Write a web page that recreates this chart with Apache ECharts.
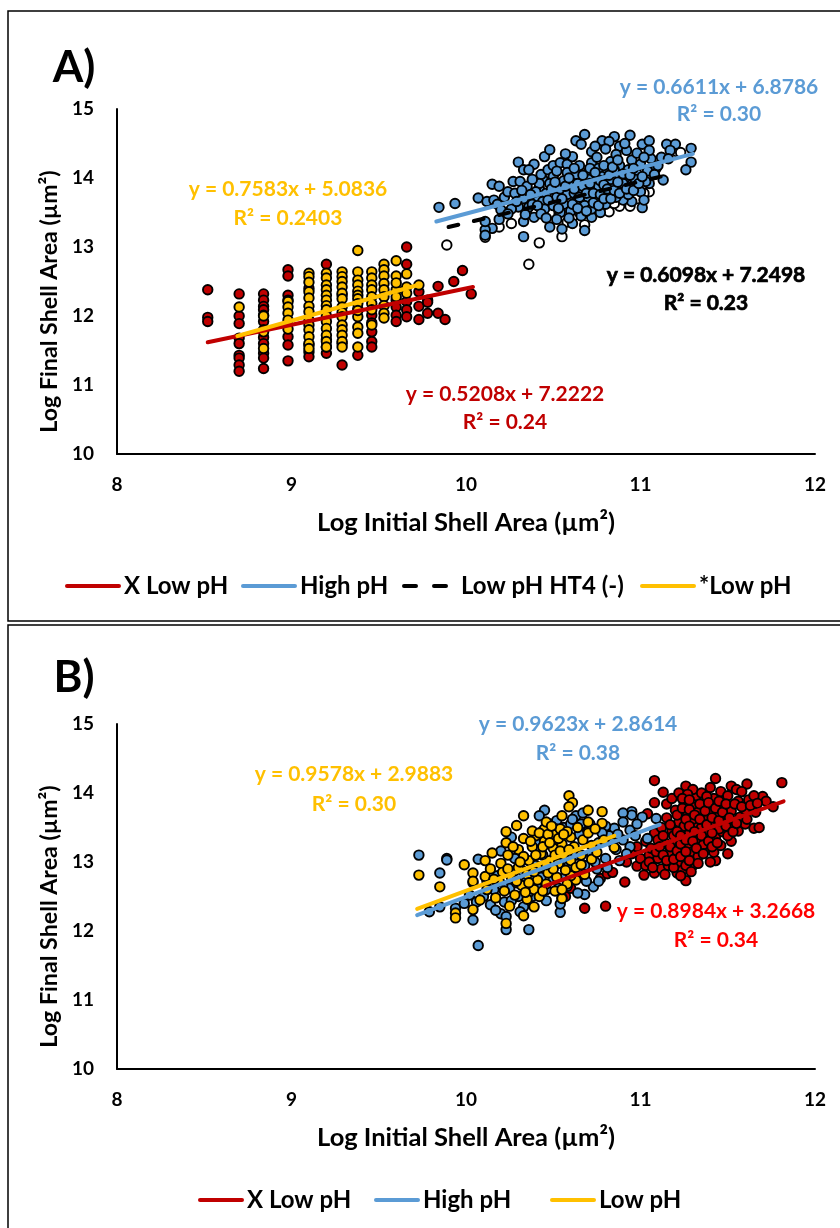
<!DOCTYPE html>
<html>
<head>
<meta charset="utf-8">
<title>Log shell area</title>
<script src="https://cdn.jsdelivr.net/npm/echarts@6/dist/echarts.min.js"></script>
<style>
html, body { margin: 0; padding: 0; background: #fff; }
#chart { width: 840px; height: 1228px; }
</style>
</head>
<body>
<div id="chart"></div>
<script>
// panel A: the low pH groups sit in columns, so [x, [y, y, ...]]
const redColumnsA = [
    [8.52, [12.38, 11.98, 11.92]],
    [8.70, [12.32, 12.00, 11.89, 11.68, 11.60, 11.43, 11.39, 11.29, 11.20]],
    [8.84, [12.32, 12.23, 12.14, 12.09, 12.01, 11.92, 11.80, 11.69, 11.60, 11.46, 11.39, 11.24]],
    [8.98, [12.67, 12.58, 12.30, 12.23, 11.70, 11.58, 11.35]],
    [9.10, [12.40, 11.58, 11.48, 11.41]],
    [9.20, [12.75, 11.46, 11.55, 11.66]],
    [9.29, [11.29, 11.60, 12.30]],
    [9.38, [11.43, 12.10]],
    [9.46, [11.77, 11.63, 11.55, 12.01, 11.90]],
    [9.60, [12.23, 12.13, 12.01, 11.92]],
    [9.66, [13.00, 12.75, 12.21, 12.09, 11.99]],
    [9.73, [12.35, 12.14, 11.95]],
    [9.78, [12.23, 12.20, 12.04]],
    [9.84, [12.43, 12.04]],
    [9.88, [11.95]],
    [9.93, [12.50]],
    [9.98, [12.66]],
    [10.03, [12.32]]
];
const yellowColumnsA = [
    [8.70, [12.13]],
    [8.84, [12.00, 11.77, 11.53]],
    [8.98, [12.21, 12.13, 12.04, 11.94, 11.81]],
    [9.10, [12.62, 12.57, 12.49, 12.35, 12.26, 12.14, 12.06, 11.94, 11.87, 11.80, 11.70, 11.60, 11.53]],
    [9.20, [12.62, 12.55, 12.45, 12.38, 12.30, 12.23, 12.15, 12.09, 12.00, 11.92, 11.82, 11.72, 11.63, 11.55]],
    [9.29, [12.64, 12.57, 12.50, 12.42, 12.33, 12.25, 12.13, 12.05, 11.99, 11.87, 11.80, 11.72, 11.63, 11.55]],
    [9.38, [12.95, 12.64, 12.52, 12.45, 12.36, 12.30, 12.25, 12.18, 11.99, 11.84, 11.75, 11.55, 12.08]],
    [9.46, [12.64, 12.55, 12.45, 12.38, 12.28, 12.18, 12.09, 11.87]],
    [9.53, [12.75, 12.67, 12.58, 12.47, 12.38, 12.28, 12.15, 12.04, 11.97]],
    [9.60, [12.80, 12.58, 12.38, 12.28, 12.48]],
    [9.66, [12.61, 12.42, 12.33]],
    [9.73, [12.45]]
];
const whitePointsA = [
    [9.89, 13.03], [10.36, 12.75], [10.42, 13.06], [10.55, 13.15], [10.19, 13.29], [10.26, 13.34],
    [10.11, 13.14], [10.48, 13.49], [10.61, 13.44], [10.68, 13.32], [10.82, 13.51], [10.88, 13.59],
    [10.94, 13.59], [10.85, 13.63], [11.05, 13.80], [11.02, 13.78], [11.21, 14.38], [11.23, 14.37],
    [10.58, 13.36], [10.40, 13.50], [10.65, 13.50], [10.72, 13.48], [10.76, 13.56], [10.98, 13.70]
];
const bluePointsA = [
    [9.845, 13.575], [9.937, 13.63], [10.07, 13.71], [10.12, 13.66], [10.15, 13.91], [10.19, 13.88],
    [10.30, 14.23], [10.39, 14.20], [10.33, 14.12], [10.36, 14.12], [10.45, 14.31], [10.48, 14.41],
    [10.68, 14.63], [10.63, 14.54], [10.66, 14.49], [10.78, 14.54], [10.85, 14.60], [10.94, 14.62],
    [10.82, 14.53], [10.88, 14.46], [11.01, 14.49], [11.05, 14.54], [11.15, 14.49], [11.20, 14.49],
    [11.29, 14.43], [11.29, 14.23], [11.26, 14.12], [11.13, 13.97], [11.09, 14.14], [11.05, 13.92],
    [11.01, 13.57], [10.95, 13.66], [10.90, 13.68], [10.72, 13.43], [10.61, 13.34], [10.55, 13.26],
    [10.48, 13.29], [10.68, 13.24], [10.33, 13.15], [10.33, 13.37], [10.39, 13.43], [10.19, 13.40],
    [10.15, 13.27], [10.11, 13.25], [10.11, 13.17], [10.11, 13.37], [10.16, 13.68], [10.22, 13.72],
    [10.24, 13.80], [10.28, 13.78], [10.27, 13.95], [10.31, 13.95], [10.35, 13.88], [10.33, 13.70],
    [10.30, 13.58], [10.26, 13.55], [10.36, 13.58], [10.40, 13.72], [10.42, 13.85], [10.44, 13.98],
    [10.43, 14.05], [10.47, 14.12], [10.50, 14.18], [10.54, 14.22], [10.58, 14.20], [10.50, 14.02],
    [10.48, 13.92], [10.46, 13.78], [10.44, 13.66], [10.45, 13.55], [10.50, 13.60], [10.52, 13.72],
    [10.54, 13.84], [10.56, 13.96], [10.58, 14.08], [10.61, 14.31], [10.65, 14.18], [10.63, 14.05],
    [10.60, 13.90], [10.58, 13.76], [10.56, 13.62], [10.54, 13.50], [10.60, 13.52], [10.63, 13.66],
    [10.66, 13.80], [10.68, 13.94], [10.70, 14.08], [10.72, 14.22], [10.72, 14.38], [10.75, 14.30],
    [10.76, 14.14], [10.74, 14.00], [10.72, 13.86], [10.70, 13.72], [10.68, 13.60], [10.66, 13.45],
    [10.72, 13.55], [10.75, 13.68], [10.78, 13.82], [10.80, 13.96], [10.81, 14.10], [10.83, 14.24],
    [10.80, 14.42], [10.86, 14.34], [10.88, 14.18], [10.86, 14.04], [10.84, 13.90], [10.82, 13.76],
    [10.80, 13.62], [10.86, 13.72], [10.89, 13.84], [10.91, 13.98], [10.93, 14.12], [10.95, 14.26],
    [10.92, 14.40], [10.98, 14.36], [11.00, 14.20], [10.98, 14.06], [10.95, 13.90], [10.93, 13.76],
    [11.00, 13.80], [11.03, 13.95], [11.04, 14.10], [11.06, 14.28], [11.05, 14.40], [11.08, 14.05],
    [11.10, 14.18], [11.12, 14.30], [11.17, 14.40], [11.16, 14.28], [11.02, 13.68], [10.38, 13.62],
    [10.34, 13.47], [10.42, 13.92], [10.52, 13.40], [10.77, 13.50], [10.91, 14.50], [10.74, 14.46],
    [10.57, 14.35], [10.52, 14.10], [10.62, 13.78], [10.70, 13.98], [10.76, 13.88], [10.83, 13.98],
    [10.90, 13.92], [10.97, 13.98], [10.64, 13.92], [10.78, 14.02], [10.85, 14.12], [10.40, 13.80],
    [10.18, 13.62], [10.20, 13.54], [10.24, 13.48], [10.29, 13.66], [10.32, 13.82], [10.37, 13.76],
    [10.38, 13.98], [10.41, 13.60], [10.43, 13.48], [10.46, 13.42], [10.47, 13.68], [10.49, 13.84],
    [10.51, 13.94], [10.53, 13.56], [10.55, 13.70], [10.57, 13.88], [10.59, 14.00], [10.59, 13.42],
    [10.61, 13.62], [10.62, 13.84], [10.62, 14.14], [10.64, 13.56], [10.65, 13.72], [10.67, 13.88],
    [10.67, 14.04], [10.69, 13.52], [10.69, 13.78], [10.71, 13.92], [10.71, 14.14], [10.73, 13.64],
    [10.73, 13.78], [10.74, 14.08], [10.76, 13.60], [10.77, 13.76], [10.77, 13.96], [10.79, 13.70],
    [10.79, 13.90], [10.79, 14.18], [10.81, 13.84], [10.82, 14.04], [10.83, 13.70], [10.84, 14.16],
    [10.85, 13.82], [10.87, 13.94], [10.87, 14.26], [10.88, 13.78], [10.90, 14.06], [10.92, 13.84],
    [10.94, 14.04], [10.96, 14.14], [10.96, 13.82], [10.99, 13.92], [11.01, 14.02], [11.02, 14.30]
];

// panel B
const redPointsB = [
    [10.68, 12.33], [10.80, 12.36], [10.91, 12.71], [10.77, 12.76], [10.81, 12.83], [10.84, 12.85],
    [11.08, 14.18], [11.13, 14.01], [11.08, 13.86], [11.43, 14.21], [11.61, 14.13], [11.81, 14.15],
    [11.26, 14.10], [11.70, 13.95], [11.76, 13.80], [11.65, 13.49], [11.52, 13.30], [11.43, 13.02],
    [11.26, 12.73], [11.21, 12.84], [11.08, 12.84], [11.02, 12.81], [10.98, 12.94], [10.92, 13.00],
    [11.04, 13.70], [11.15, 13.84], [10.57, 12.50], [10.60, 12.62], [10.95, 13.12], [10.98, 13.22],
    [11.00, 13.05], [11.03, 12.95], [11.05, 13.10], [11.03, 13.30], [11.08, 13.42], [11.06, 13.20],
    [11.10, 13.05], [11.12, 12.90], [11.14, 12.82], [11.16, 12.95], [11.18, 13.12], [11.14, 13.28],
    [11.12, 13.50], [11.15, 13.64], [11.18, 13.46], [11.20, 13.30], [11.22, 13.00], [11.24, 12.88],
    [11.26, 13.05], [11.28, 13.22], [11.22, 13.58], [11.20, 13.75], [11.18, 13.92], [11.22, 14.00],
    [11.25, 13.86], [11.27, 13.70], [11.28, 13.42], [11.30, 13.15], [11.30, 12.95], [11.33, 13.08],
    [11.34, 13.32], [11.32, 13.55], [11.30, 13.80], [11.32, 13.96], [11.30, 14.05], [11.35, 14.00],
    [11.36, 13.84], [11.37, 13.62], [11.38, 13.42], [11.38, 13.18], [11.40, 13.00], [11.42, 13.14],
    [11.43, 13.36], [11.42, 13.55], [11.40, 13.75], [11.42, 13.92], [11.40, 14.08], [11.46, 14.02],
    [11.47, 13.82], [11.48, 13.62], [11.47, 13.44], [11.46, 13.24], [11.50, 13.38], [11.52, 13.55],
    [11.52, 13.74], [11.50, 13.96], [11.52, 14.10], [11.55, 14.05], [11.56, 13.88], [11.57, 13.65],
    [11.56, 13.45], [11.60, 13.55], [11.60, 13.76], [11.62, 13.90], [11.65, 13.96], [11.66, 13.72],
    [11.68, 13.50], [11.72, 13.88], [11.58, 14.02], [11.35, 13.50], [11.33, 13.72], [11.25, 13.52],
    [11.19, 13.38], [11.10, 13.32], [11.24, 13.15], [11.36, 13.25], [11.44, 13.70], [11.27, 13.98],
    [11.38, 13.95], [11.50, 13.12], [11.40, 13.52], [11.16, 13.12], [11.30, 13.62], [11.45, 13.48],
    [11.05, 13.00], [11.07, 12.92], [11.09, 13.15], [11.11, 13.22], [11.13, 13.10], [11.13, 13.38],
    [11.15, 13.02], [11.17, 13.22], [11.17, 13.54], [11.19, 12.92], [11.19, 13.04], [11.21, 13.16],
    [11.21, 13.44], [11.21, 13.68], [11.23, 12.80], [11.23, 13.08], [11.23, 13.26], [11.23, 13.38],
    [11.24, 13.78], [11.24, 13.92], [11.26, 12.95], [11.26, 13.15], [11.26, 13.32], [11.26, 13.62],
    [11.28, 13.02], [11.28, 13.52], [11.28, 13.76], [11.28, 13.90], [11.29, 12.86], [11.30, 13.30],
    [11.31, 13.44], [11.31, 13.68], [11.32, 13.20], [11.33, 12.98], [11.34, 13.62], [11.34, 13.84],
    [11.35, 13.38], [11.36, 13.12], [11.37, 13.74], [11.38, 13.54], [11.39, 13.30], [11.39, 13.86],
    [11.41, 13.64], [11.41, 13.42], [11.41, 13.22], [11.43, 13.78], [11.44, 13.28], [11.45, 13.60],
    [11.45, 13.88], [11.47, 13.72], [11.49, 13.52], [11.49, 13.84], [11.51, 13.64], [11.53, 13.44],
    [11.54, 13.84], [11.55, 13.56], [11.58, 13.80], [11.61, 13.62], [11.63, 13.82], [11.67, 13.85]
];
const bluePointsB = [
    [9.73, 13.10], [9.89, 13.05], [9.89, 13.03], [9.85, 12.84], [9.79, 12.28], [9.85, 12.35],
    [9.94, 12.33], [10.07, 11.79], [10.23, 12.02], [10.36, 12.02], [10.04, 12.16], [10.20, 12.25],
    [10.23, 12.21], [10.33, 12.35], [10.54, 12.27], [10.54, 12.39], [10.68, 12.53], [10.73, 12.64],
    [10.45, 13.75], [10.42, 13.67], [10.63, 13.67], [10.67, 13.71], [10.95, 13.73], [10.95, 13.68],
    [10.90, 13.71], [10.90, 13.58], [11.01, 13.65], [11.09, 13.63], [10.94, 13.46], [10.85, 13.49],
    [10.07, 13.04], [10.20, 13.16], [10.26, 13.36], [11.04, 13.34], [9.99, 12.40], [10.02, 12.52],
    [10.04, 12.70], [10.10, 12.50], [10.14, 12.38], [10.16, 12.60], [10.18, 12.80], [10.22, 12.42],
    [10.25, 12.62], [10.27, 12.85], [10.30, 12.50], [10.31, 12.28], [10.28, 13.05], [10.34, 12.70],
    [10.38, 12.50], [10.40, 12.95], [10.42, 13.30], [10.44, 13.45], [10.46, 12.60], [10.48, 13.55],
    [10.50, 12.75], [10.52, 13.60], [10.55, 12.48], [10.56, 13.50], [10.58, 12.65], [10.60, 13.55],
    [10.62, 12.80], [10.65, 13.40], [10.68, 12.95], [10.70, 13.45], [10.72, 13.10], [10.75, 12.90],
    [10.76, 13.28], [10.80, 13.05], [10.82, 13.38], [10.86, 13.18], [10.90, 13.32], [10.88, 13.02],
    [10.94, 13.22], [10.98, 13.55], [10.80, 13.52], [10.76, 12.72], [10.64, 12.55], [10.46, 12.44],
    [10.06, 12.42], [10.12, 12.72], [10.17, 12.30], [10.21, 12.66], [10.26, 12.44], [10.29, 12.70],
    [10.32, 12.88], [10.36, 12.56], [10.37, 12.80], [10.41, 12.62], [10.43, 12.78], [10.44, 13.10],
    [10.47, 12.90], [10.49, 13.30], [10.52, 13.48], [10.53, 12.62], [10.57, 12.80], [10.59, 12.95],
    [10.61, 13.62], [10.63, 13.10], [10.66, 13.55], [10.69, 12.72], [10.71, 13.55], [10.74, 13.00],
    [10.78, 13.42], [10.81, 12.92], [10.84, 13.28], [10.87, 13.40], [10.92, 13.12], [10.97, 13.38]
];
const yellowPointsB = [
    [9.73, 12.81], [9.85, 12.64], [9.99, 12.96], [9.94, 12.26], [9.94, 12.19], [10.04, 12.31],
    [10.23, 12.11], [10.33, 12.22], [10.39, 12.35], [10.55, 12.47], [10.59, 13.96], [10.61, 13.86],
    [10.59, 13.80], [10.33, 13.67], [10.29, 13.53], [10.23, 13.44], [10.55, 13.67], [10.70, 13.75],
    [10.78, 13.73], [10.78, 13.56], [10.70, 13.58], [10.15, 13.13], [10.11, 13.02], [10.04, 12.84],
    [10.11, 12.79], [10.72, 13.04], [10.85, 13.21], [10.79, 13.32], [10.63, 12.74], [10.60, 12.80],
    [10.04, 12.72], [10.08, 12.45], [10.12, 12.60], [10.14, 12.90], [10.17, 12.48], [10.19, 12.72],
    [10.20, 12.98], [10.22, 12.58], [10.23, 13.28], [10.24, 13.10], [10.25, 12.36], [10.26, 12.78],
    [10.28, 12.52], [10.30, 12.92], [10.30, 13.18], [10.32, 12.66], [10.33, 13.34], [10.35, 12.46],
    [10.35, 12.82], [10.36, 13.02], [10.38, 13.22], [10.39, 12.60], [10.40, 13.38], [10.41, 12.74],
    [10.42, 12.92], [10.43, 13.12], [10.45, 13.30], [10.45, 13.48], [10.46, 12.68], [10.47, 12.84],
    [10.48, 13.02], [10.50, 13.20], [10.50, 13.40], [10.51, 12.58], [10.52, 12.78], [10.53, 12.98],
    [10.54, 13.48], [10.55, 13.26], [10.56, 13.10], [10.57, 12.88], [10.58, 12.68], [10.60, 13.36],
    [10.60, 13.02], [10.62, 13.22], [10.63, 12.92], [10.64, 13.50], [10.66, 13.10], [10.67, 13.32],
    [10.68, 12.82], [10.70, 13.42], [10.72, 13.24], [10.74, 13.48], [10.75, 13.14], [10.46, 13.58],
    [10.38, 13.45], [10.33, 13.08], [10.27, 13.22], [10.21, 12.85], [10.16, 12.75], [10.42, 12.50],
    [10.55, 12.60], [10.66, 12.96], [10.58, 13.44], [10.50, 12.90], [10.44, 12.58], [10.36, 12.70],
    [10.40, 13.10], [10.42, 13.42], [10.44, 13.22], [10.47, 13.40], [10.48, 13.28], [10.49, 13.52],
    [10.51, 13.10], [10.53, 13.34], [10.54, 13.16], [10.56, 13.40], [10.37, 13.30], [10.31, 13.00],
    [10.29, 12.72], [10.24, 12.90], [10.34, 12.56], [10.39, 12.86], [10.46, 12.96], [10.59, 13.18]
];

// trend line end points
const redLineA = [[8.52, 11.62], [10.04, 12.42]];
const blueLineA = [[9.83, 13.37], [11.30, 14.35]];
const blackLineA = [[9.90, 13.29], [11.20, 14.07]];
const yellowLineA = [[8.69, 11.71], [9.74, 12.46]];
const redLineB = [[10.45, 12.65], [11.82, 13.88]];
const blueLineB = [[9.72, 12.23], [11.11, 13.54]];
const yellowLineB = [[9.72, 12.32], [10.85, 13.38]];

const RED = '#C00000';
const BLUE = '#5B9BD5';
const YELLOW = '#FFC000';
const FONT = 'Lato';

// 把列数据展开成 [x, y]
function flattenColumns(columns) {
    const points = [];
    columns.forEach(function (col) {
        col[1].forEach(function (y) { points.push([col[0], y]); });
    });
    return points;
}

function dots(panel, color, data) {
    return {
        type: 'scatter',
        xAxisIndex: panel,
        yAxisIndex: panel,
        data: data,
        symbolSize: 9.5,
        itemStyle: { color: color, borderColor: '#000', borderWidth: 1.9, opacity: 1 },
        z: 2,
        silent: true
    };
}

function trend(panel, name, color, data, dashed) {
    return {
        type: 'line',
        name: name,
        xAxisIndex: panel,
        yAxisIndex: panel,
        data: data,
        symbol: 'none',
        itemStyle: { color: color },
        lineStyle: { color: color, width: 4, cap: 'round', type: dashed ? [10, 16] : 'solid' },
        z: 3,
        silent: true
    };
}

function axisPair(panel) {
    const axisLine = { show: true, onZero: false, lineStyle: { color: '#000', width: 2 } };
    const label = { color: '#000', fontFamily: FONT, fontWeight: 'bold', fontSize: 19 };
    return {
        x: {
            type: 'value', gridIndex: panel, min: 8, max: 12, interval: 1,
            name: 'Log Initial Shell Area (µm²)', nameLocation: 'middle', nameGap: 56,
            nameTextStyle: { color: '#000', fontFamily: FONT, fontWeight: 'bold', fontSize: 25.5 },
            axisLine: axisLine, axisTick: { show: false },
            axisLabel: Object.assign({ margin: 21 }, label), splitLine: { show: false }
        },
        y: {
            type: 'value', gridIndex: panel, min: 10, max: 15, interval: 1,
            name: 'Log Final Shell Area (µm²)', nameLocation: 'middle', nameGap: 54,
            // 标题比坐标轴中心偏下
            nameTextStyle: { color: '#000', fontFamily: FONT, fontWeight: 'bold', fontSize: 23.2, padding: [0, 40, 0, 0] },
            axisLine: axisLine, axisTick: { show: false },
            axisLabel: Object.assign({ margin: 23 }, label), splitLine: { show: false }
        }
    };
}

function legendItem(name, left, top, width, textGap, dashed) {
    return {
        data: [name],
        left: left,
        top: top,
        padding: 0,
        itemWidth: width,
        itemHeight: 14,
        selectedMode: false,
        itemStyle: { opacity: 0 },
        lineStyle: { width: 4, cap: 'round', type: dashed ? [12, 18] : 'solid' },
        textStyle: { color: '#000', fontFamily: FONT, fontWeight: 'bold', fontSize: 24, padding: [0, 0, 0, textGap] }
    };
}

function note(text, cx, cy, color, size) {
    const style = {
        text: text, fill: color, align: 'center', verticalAlign: 'middle',
        fontFamily: FONT, fontWeight: 'bold', fontSize: size || 21
    };
    // 黑色方程在原图里更粗
    if (color === '#000' && !size) {
        style.stroke = '#000';
        style.lineWidth = 0.7;
    }
    return { type: 'text', x: cx, y: cy, silent: true, style: style };
}

function frame(top, height) {
    return {
        type: 'rect',
        silent: true,
        shape: { x: 8, y: top, width: 840, height: height },
        style: { fill: 'none', stroke: '#000', lineWidth: 1.5 }
    };
}

const panelA = axisPair(0);
const panelB = axisPair(1);

const option = {
    animation: false,
    backgroundColor: '#fff',
    grid: [
        { left: 117, top: 109, width: 698, height: 345 },
        { left: 117, top: 724, width: 698, height: 345 }
    ],
    xAxis: [panelA.x, panelB.x],
    yAxis: [panelA.y, panelB.y],
    legend: [
        legendItem('X Low pH', 65, 574, 52, 0),
        legendItem('High pH', 241, 574, 52, 0),
        legendItem('Low pH HT4 (-)', 402, 574, 42, 10, true),
        legendItem('*Low pH', 640, 574, 52, 0),
        legendItem('X Low pH ', 198, 1188, 42, 0),
        legendItem('High pH ', 374, 1188, 42, 0),
        legendItem('Low pH', 550, 1188, 42, 0)
    ],
    series: [
        dots(0, RED, flattenColumns(redColumnsA)),
        dots(0, '#fff', whitePointsA),
        dots(0, BLUE, bluePointsA),
        dots(0, YELLOW, flattenColumns(yellowColumnsA)),
        trend(0, 'X Low pH', RED, redLineA),
        trend(0, 'High pH', BLUE, blueLineA),
        trend(0, 'Low pH HT4 (-)', '#000', blackLineA, true),
        trend(0, '*Low pH', YELLOW, yellowLineA),
        dots(1, RED, redPointsB),
        dots(1, BLUE, bluePointsB),
        dots(1, YELLOW, yellowPointsB),
        trend(1, 'X Low pH ', RED, redLineB),
        trend(1, 'High pH ', BLUE, blueLineB),
        trend(1, 'Low pH', YELLOW, yellowLineB)
    ],
    graphic: [
        frame(11, 610),
        frame(625, 700),
        note('A)', 74, 68, '#000', 44),
        note('B)', 74, 678, '#000', 44),
        note('y = 0.6611x + 6.8786', 719, 87, BLUE),
        note('R² = 0.30', 719, 114, BLUE),
        note('y = 0.7583x + 5.0836', 288, 189, YELLOW),
        note('R² = 0.2403', 288, 218, YELLOW),
        note('y = 0.6098x + 7.2498', 706, 275, '#000'),
        note('R² = 0.23', 706, 303, '#000'),
        note('y = 0.5208x + 7.2222', 505, 394, RED),
        note('R² = 0.24', 505, 422, RED),
        note('y = 0.9623x + 2.8614', 578, 724, BLUE),
        note('R² = 0.38', 578, 753, BLUE),
        note('y = 0.9578x + 2.9883', 354, 774, YELLOW),
        note('R² = 0.30', 354, 804, YELLOW),
        note('y = 0.8984x + 3.2668', 716, 911, '#FF0000'),
        note('R² = 0.34', 716, 940, '#FF0000')
    ]
};

const chart = echarts.init(document.getElementById('chart'));
chart.setOption(option);
</script>
</body>
</html>
